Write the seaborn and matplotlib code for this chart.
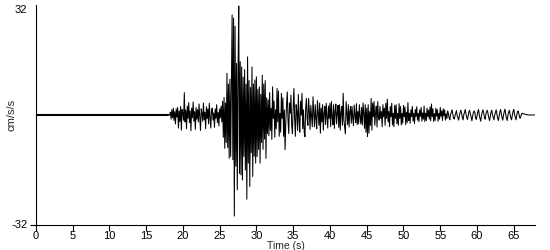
import numpy as np
import pandas as pd
import matplotlib
matplotlib.use("Agg")
import matplotlib.pyplot as plt
import seaborn as sns

# ---- data (cm/s/s) ----
pre_event_time = [0.0, 18.0]
pre_event_accel = [0.0, 0.0]

record_start = 18.0   # s
sample_step = 0.1     # s
accel_rows = [
    [0, 0, 0, 0.8, -1.2, 1.5, -0.8, 2.0, -1.6, 1.0],                      # 18
    [-2.6, 1.8, -0.6, 2.2, -3.8, 1.2, -1.9, 2.5, -4.4, 1.6],              # 19
    [0.5, -1.5, 6.5, -2.0, 1.4, -4.0, 2.6, -1.0, 3.6, -2.2],              # 20
    [1.2, -4.6, 2.0, -0.8, 3.8, -1.8, 1.0, -4.2, 2.2, -1.2],              # 21
    [1.6, -2.0, 3.2, -0.6, -4.5, 1.8, 0.4, -1.8, 3.5, -1.4],              # 22
    [0.8, -4.0, 2.4, -1.0, 1.8, -2.6, 3.4, -0.8, -3.8, 1.5],              # 23
    [2.0, -1.5, 0.6, -3.6, 1.8, -1.0, 3.0, -2.2, 0.8, -3.2],              # 24
    [1.8, -0.8, 2.6, -2.0, 4.0, -6.5, 5.1, -9.7, 3.5, -8.0],              # 25
    [12.1, -9.5, 9.0, -12.6, 10.4, -12.1, 8.5, 29.1, -13.0, 28.2],        # 26
    [-29.4, 25.8, -14.9, 15.0, -21.8, 12.0, 31.7, -17.0, 15.5, -17.4],    # 27
    [14.0, -18.9, 11.0, -12.0, 13.2, -16.0, 9.0, -24.5, 16.9, -14.0],     # 28
    [10.0, -20.8, 8.0, -11.0, 14.0, -17.9, 9.0, -12.0, 10.2, -14.0],      # 29
    [11.1, -12.1, 7.5, -10.0, 8.2, -14.0, 6.0, -8.0, 11.6, -10.0],        # 30
    [9.0, -7.0, 10.0, -12.6, 5.0, -5.4, 4.4, -6.0, 6.5, -4.5],            # 31
    [2.0, -7.1, 8.2, -1.0, 4.0, -6.5, 1.5, -4.0, 7.7, -2.0],              # 32
    [7.0, -6.2, 0.5, -5.0, 6.3, -1.0, 5.0, -6.2, 1.5, -10.1],             # 33
    [-2.0, 3.0, 6.7, -1.5, -5.4, 3.5, 0.5, 5.8, -3.0, -5.4],              # 34
    [2.0, 7.7, -1.0, -6.2, 3.0, 1.0, -4.5, 6.0, -1.5, -5.0],              # 35
    [4.0, 0.0, 6.3, -4.0, 1.5, -5.0, -6.3, 2.0, 4.8, -1.0],               # 36
    [-3.0, 4.8, 1.0, -4.2, 2.8, -0.5, -3.4, 5.3, 0.5, -3.4],              # 37
    [3.0, -1.0, -4.0, 4.2, 0.5, -3.0, 3.5, -5.3, 2.0, -2.0],              # 38
    [3.0, -4.4, 0.5, 2.5, -2.8, 3.4, -0.5, -3.8, 2.6, -1.0],              # 39
    [3.4, -3.4, 3.9, -0.5, -2.8, 3.0, -3.9, 1.0, 3.2, -2.6],              # 40
    [0.5, 2.8, -3.6, 3.0, -4.4, 0.8, 2.5, -3.0, 6.3, -1.5],               # 41
    [-3.5, -5.5, 3.9, 0.5, -2.8, 3.0, -3.5, 1.0, 2.5, -2.4],              # 42
    [2.5, -1.0, -3.0, 2.9, 0.0, -2.2, 3.3, -2.8, 1.0, -2.5],              # 43
    [3.0, -0.5, -2.6, 2.2, -2.9, 3.5, 0.5, -3.9, 3.0, -5.0],              # 44
    [2.0, -6.3, 3.0, -5.3, 1.0, -3.0, 4.8, -4.4, 3.5, -0.5],              # 45
    [3.9, -3.0, 0.5, 2.6, -3.5, 3.9, -0.5, -1.5, 2.5, -1.0],              # 46
    [1.0, -3.4, 3.0, -0.5, 2.0, -3.0, 3.4, -1.0, 4.6, -2.0],              # 47
    [1.0, -3.4, 2.5, -0.5, 3.4, -2.9, 0.5, -3.4, 2.8, -1.0],              # 48
    [3.0, -2.5, 0.5, -3.0, 3.3, -1.0, 2.5, -2.9, 0.5, -2.4],              # 49
    [2.8, -0.5, 2.4, -2.8, 0.8, -2.2, 3.6, -1.6, 0.5, -2.4],              # 50
    [1.5, -0.5, 2.5, -1.8, 0.5, -2.5, 1.6, -0.4, 2.4, -1.5],              # 51
    [0.5, -1.9, 1.5, -0.4, 2.2, -1.8, 0.6, -1.2, 2.6, -1.9],              # 52
    [0.5, -1.6, 2.0, -0.5, 1.4, -1.2, 2.3, -1.7, 3.2, -0.5],              # 53
    [1.8, -1.9, 0.4, -1.6, 2.0, -0.3, 1.6, -1.8, 0.5, -1.2],              # 54
    [2.2, -0.4, 1.2, -1.6, 1.8, -0.2, 1.5, -1.5, 0.3, -1.0],              # 55
    [1.2, 0.5, -0.8, -1.4, 0.2, 0.8, 1.5, 0.3, -0.9, -1.2],               # 56
    [-0.2, 0.6, 1.3, -0.2, -0.9, -1.5, -0.2, 0.8, 1.4, 0.5],              # 57
    [-0.8, -1.4, 0.1, 0.9, 1.6, 0.2, -0.7, -1.3, -0.2, 1.0],              # 58
    [1.3, 0.2, -0.6, -1.7, -0.3, 0.7, 1.2, 0.8, -0.9, -1.3],              # 59
    [-0.2, 0.9, 1.6, 0.1, -1.0, -1.8, -0.2, 0.8, 1.5, 0.6],               # 60
    [-0.7, -1.2, 0.2, 1.0, 1.4, 0.3, -0.8, -1.6, -0.5, 0.9],              # 61
    [1.4, 0.0, -0.7, -1.4, 0.0, 0.8, 1.5, 0.2, -0.9, -1.6],               # 62
    [-0.3, 0.9, 1.6, 0.3, -0.8, -1.5, 0.0, 1.0, 1.7, 0.2],                # 63
    [-0.9, -1.6, 0.0, 0.8, 1.4, 0.1, -0.9, -1.4, 0.0, 1.1],               # 64
    [1.6, 0.2, -0.7, -1.4, 0.0, 0.9, 1.2, 0.2, -0.8, -0.9],               # 65
    [0.0, 0.5, 0.4, 0.3, 0.3, 0.3, 0.2, 0.1, 0.1, 0.0],                   # 66
    [0.0, 0.0, 0.0, 0.0, 0.0, 0.0, 0.0, 0.0, 0.0, 0.0],                   # 67
]

x_ticks = [0, 5, 10, 15, 20, 25, 30, 35, 40, 45, 50, 55, 60, 65]
y_limits = (-32, 32)
x_limits = (0, 67.9)
x_label = "Time (s)"
y_label = "cm/s/s"

# ---- build table ----
record_accel = [v for row in accel_rows for v in row]
record_time = [record_start + i * sample_step for i in range(len(record_accel))]
df = pd.DataFrame({
    "time": list(pre_event_time) + record_time,
    "accel": list(pre_event_accel) + record_accel,
})

# ---- plot ----
sns.set_style("ticks")
plt.rcParams["font.family"] = ["Liberation Sans", "DejaVu Sans"]

fig = plt.figure(figsize=(5.5, 2.5), dpi=100)
ax = fig.add_axes([0.065, 0.10, 0.908, 0.88])

sns.lineplot(data=df, x="time", y="accel", estimator=None, sort=False,
             color="black", linewidth=0.75, ax=ax)
# slightly heavier pre-event baseline as in the reference
sns.lineplot(x=pre_event_time, y=pre_event_accel, estimator=None, sort=False,
             color="black", linewidth=1.5, ax=ax)

ax.set_xlim(*x_limits)
ax.set_ylim(*y_limits)
ax.set_xticks(x_ticks)
ax.set_xticklabels([str(t) for t in x_ticks])
ax.set_yticks([y_limits[0], y_limits[1]])
ax.set_yticklabels([str(y_limits[0]), str(y_limits[1])])

sns.despine(ax=ax, top=True, right=True)
for s in ["left", "bottom"]:
    ax.spines[s].set_color("black")
    ax.spines[s].set_linewidth(0.8)

ax.tick_params(axis="x", length=4, width=0.8, pad=0.5, labelsize=8, colors="black")
ax.tick_params(axis="y", length=4, width=0.8, pad=2, labelsize=8, colors="black")
# no visible tick mark at the top of the y axis
ax.yaxis.get_major_ticks()[1].tick1line.set_visible(False)
ax.yaxis.get_major_ticks()[1].label1.set_verticalalignment("top")
ax.yaxis.get_major_ticks()[0].label1.set_verticalalignment("center")

ax.set_xlabel(x_label, fontsize=7.5, labelpad=-0.5)
ax.set_ylabel(y_label, fontsize=8)
ax.yaxis.set_label_coords(-0.039, 0.5)

fig.savefig("out.png", dpi=100)
